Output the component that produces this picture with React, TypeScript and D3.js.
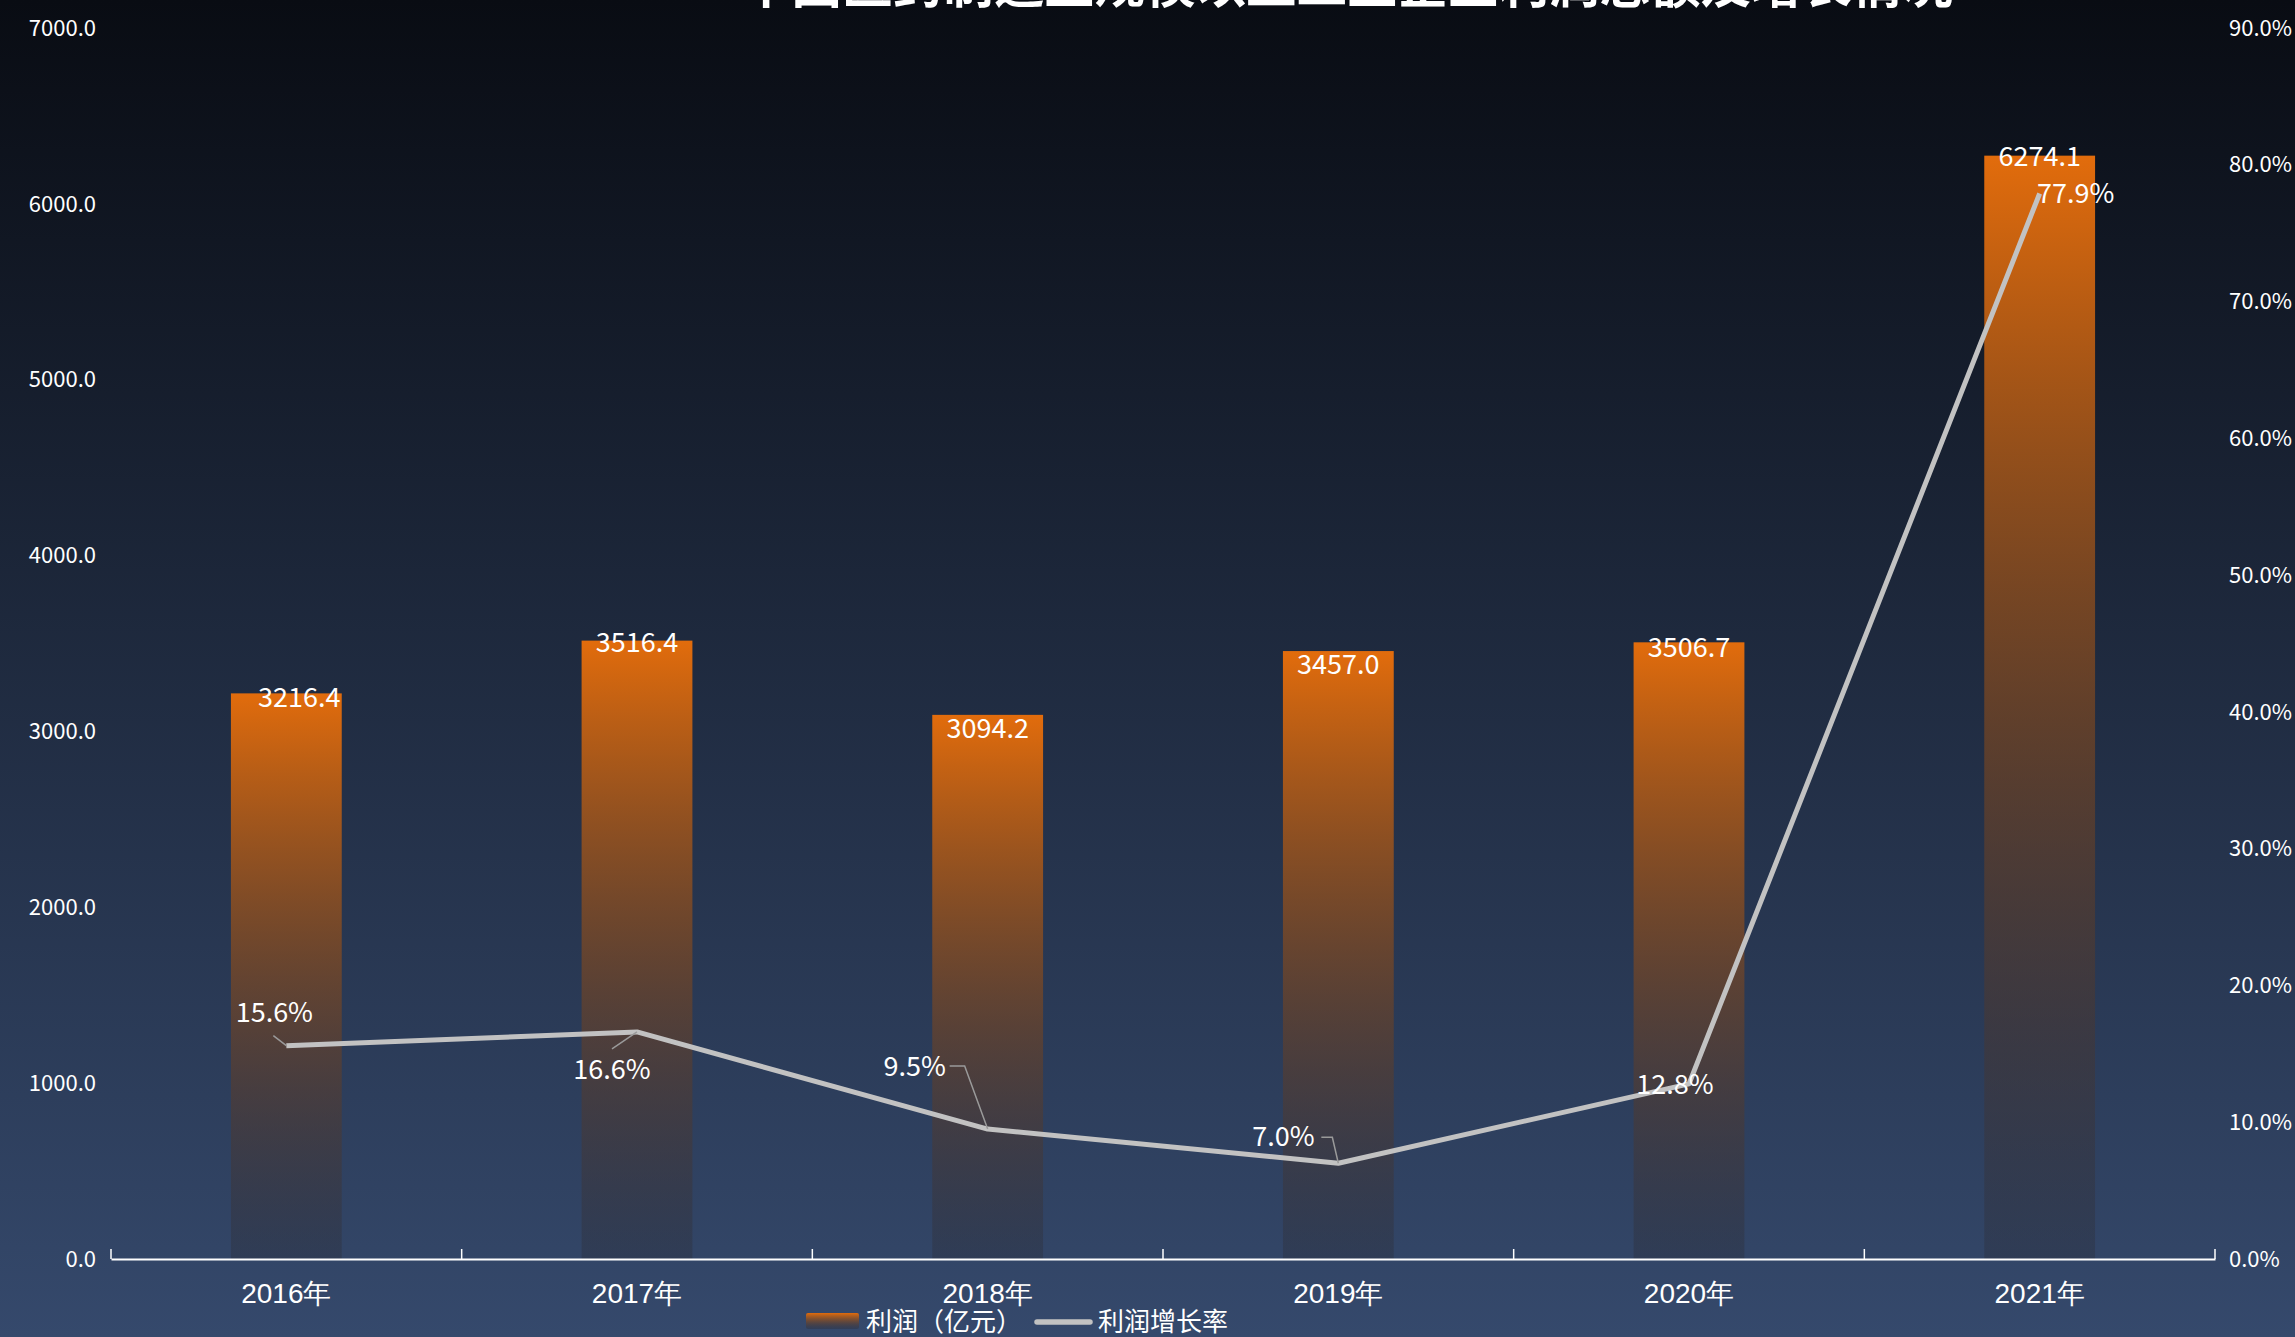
import React, { useEffect, useRef } from "react";
import * as d3 from "d3";

// chart data
const title = "中国医药制造业规模以上工业企业利润总额及增长情况";
const years = ["2016年", "2017年", "2018年", "2019年", "2020年", "2021年"];
const profit = [3216.4, 3516.4, 3094.2, 3457.0, 3506.7, 6274.1];
const growth = [15.6, 16.6, 9.5, 7.0, 12.8, 77.9];
const leftTicks = [0, 1000, 2000, 3000, 4000, 5000, 6000, 7000];
const rightTicks = [0, 10, 20, 30, 40, 50, 60, 70, 80, 90];
const seriesNames = ["利润（亿元）", "利润增长率"];

// label nudges (like echarts labelLayout), styling only
const barLabelNudge = [
  { dx: 13, dy: 4 },
  { dx: 0, dy: 2 },
  { dx: 0, dy: 14 },
  { dx: 0, dy: 13 },
  { dx: 0, dy: 5 },
  { dx: 0, dy: 1 },
];
const growthLabelLayout = [
  { dx: -12, dy: -33, leader: [[-13, -10], [0, 0]] },
  { dx: -25, dy: 38, leader: [[-25, 17], [0, 0]] },
  { dx: -73, dy: -63, leader: [[-38, -63], [-23, -63], [0, 0]] },
  { dx: -55, dy: -27, leader: [[-17, -26], [-6, -26], [0, 0]] },
  { dx: -14, dy: 1, leader: [] },
  { dx: 36, dy: 0, leader: [] },
];

const width = 2295,
  height = 1337,
  marginTop = 28,
  marginBottom = 78,
  marginLeft = 111,
  marginRight = 80;

const FONT = "'Noto Sans CJK SC', 'Noto Sans', sans-serif";

const App = () => {
  const chartRef = useRef<SVGSVGElement>(null);

  useEffect(() => {
    if (!chartRef.current) return;
    const svg = d3.select(chartRef.current);
    svg.selectAll("*").remove();
    svg
      .attr("width", width)
      .attr("height", height)
      .attr("viewBox", [0, 0, width, height])
      .style("font-family", FONT);

    const defs = svg.append("defs");
    const bg = defs
      .append("linearGradient")
      .attr("id", "bg")
      .attr("x1", 0)
      .attr("y1", 0)
      .attr("x2", 0)
      .attr("y2", 1);
    bg.append("stop").attr("offset", "0%").attr("stop-color", "#090c13");
    bg.append("stop").attr("offset", "100%").attr("stop-color", "#35496c");

    const barGrad = defs
      .append("linearGradient")
      .attr("id", "barGrad")
      .attr("x1", 0)
      .attr("y1", 0)
      .attr("x2", 0)
      .attr("y2", 1);
    barGrad
      .append("stop")
      .attr("offset", "0%")
      .attr("stop-color", "#e26c0c")
      .attr("stop-opacity", 1);
    barGrad
      .append("stop")
      .attr("offset", "100%")
      .attr("stop-color", "#28282f")
      .attr("stop-opacity", 0.3);

    svg
      .append("rect")
      .attr("width", width)
      .attr("height", height)
      .attr("fill", "url(#bg)");

    const x = d3
      .scaleBand()
      .domain(years)
      .range([marginLeft, width - marginRight])
      .padding(0);
    const yLeft = d3
      .scaleLinear()
      .domain([0, 7000])
      .range([height - marginBottom, marginTop]);
    const yRight = d3
      .scaleLinear()
      .domain([0, 90])
      .range([height - marginBottom, marginTop]);
    const barW = x.bandwidth() * 0.316;
    const cx = (d: string) => (x(d) ?? 0) + x.bandwidth() / 2;

    // title (mostly outside the top edge)
    svg
      .append("text")
      .attr("x", 1347)
      .attr("y", 3)
      .attr("text-anchor", "middle")
      .attr("fill", "#fff")
      .attr("font-size", 50.5)
      .attr("font-weight", "bold")
      .text(title);

    // left axis labels
    svg
      .append("g")
      .selectAll("text")
      .data(leftTicks)
      .join("text")
      .attr("x", 96)
      .attr("y", (d) => yLeft(d))
      .attr("dy", "0.35em")
      .attr("text-anchor", "end")
      .attr("fill", "#fff")
      .attr("font-size", 22)
      .text((d) => d3.format(".1f")(d));

    // right axis labels
    svg
      .append("g")
      .selectAll("text")
      .data(rightTicks)
      .join("text")
      .attr("x", width - 66)
      .attr("y", (d) => yRight(d))
      .attr("dy", "0.35em")
      .attr("text-anchor", "start")
      .attr("fill", "#fff")
      .attr("font-size", 22)
      .text((d) => `${d3.format(".1f")(d)}%`);

    // bars
    svg
      .append("g")
      .selectAll("rect")
      .data(profit)
      .join("rect")
      .attr("x", (_, i) => cx(years[i]) - barW / 2)
      .attr("y", (d) => yLeft(d))
      .attr("width", barW)
      .attr("height", (d) => yLeft(0) - yLeft(d))
      .attr("fill", "url(#barGrad)");

    // x axis
    const axis = svg
      .append("g")
      .attr("transform", `translate(0,${yLeft(0)})`)
      .call(
        d3
          .axisBottom(x)
          .tickSize(0)
          .tickSizeOuter(0)
          .tickFormat(() => "")
      );
    axis.select("path").attr("stroke", "#fff").attr("stroke-width", 2);
    axis.selectAll("g.tick").remove();
    const bounds = years.map((d) => x(d) ?? 0).concat([width - marginRight]);
    axis
      .selectAll("line.bound")
      .data(bounds)
      .join("line")
      .attr("class", "bound")
      .attr("x1", (d) => d)
      .attr("x2", (d) => d)
      .attr("y1", 0)
      .attr("y2", -10)
      .attr("stroke", "#fff")
      .attr("stroke-width", 1.5);
    axis
      .selectAll("text.cat")
      .data(years)
      .join("text")
      .attr("class", "cat")
      .attr("x", (d) => cx(d))
      .attr("y", 34)
      .attr("dy", "0.35em")
      .attr("text-anchor", "middle")
      .attr("fill", "#fff")
      .attr("font-size", 28)
      .text((d) => d);

    // growth line
    const line = d3
      .line<number>()
      .x((_, i) => cx(years[i]))
      .y((d) => yRight(d));
    svg
      .append("path")
      .datum(growth)
      .attr("d", line)
      .attr("fill", "none")
      .attr("stroke", "#c2c2c2")
      .attr("stroke-width", 5)
      .attr("stroke-linejoin", "round");

    // bar value labels
    svg
      .append("g")
      .selectAll("text")
      .data(profit)
      .join("text")
      .attr("x", (_, i) => cx(years[i]) + barLabelNudge[i].dx)
      .attr("y", (d, i) => yLeft(d) + barLabelNudge[i].dy)
      .attr("dy", "0.35em")
      .attr("text-anchor", "middle")
      .attr("fill", "#fff")
      .attr("font-size", 27)
      .text((d) => d3.format(".1f")(d));

    // growth labels + leader lines
    const lg = svg.append("g");
    growth.forEach((v, i) => {
      const px = cx(years[i]);
      const py = yRight(v);
      const lay = growthLabelLayout[i];
      if (lay.leader.length) {
        lg.append("path")
          .attr(
            "d",
            d3.line()(lay.leader.map(([a, b]) => [px + a, py + b]) as [number, number][])
          )
          .attr("fill", "none")
          .attr("stroke", "#9a9a9a")
          .attr("stroke-width", 1.5);
      }
      lg.append("text")
        .attr("x", px + lay.dx)
        .attr("y", py + lay.dy)
        .attr("dy", "0.35em")
        .attr("text-anchor", "middle")
        .attr("fill", "#fff")
        .attr("font-size", 27)
        .text(`${d3.format(".1f")(v)}%`);
    });

    // legend
    const legend = svg.append("g").attr("transform", `translate(0,1322)`);
    legend
      .append("rect")
      .attr("x", 806)
      .attr("y", -9)
      .attr("width", 53)
      .attr("height", 16)
      .attr("rx", 2)
      .attr("fill", "url(#barGrad)");
    legend
      .append("text")
      .attr("x", 866)
      .attr("y", 0)
      .attr("dy", "0.35em")
      .attr("fill", "#fff")
      .attr("font-size", 26)
      .text(seriesNames[0]);
    legend
      .append("line")
      .attr("x1", 1037)
      .attr("x2", 1090)
      .attr("y1", 0)
      .attr("y2", 0)
      .attr("stroke", "#c2c2c2")
      .attr("stroke-width", 5.5)
      .attr("stroke-linecap", "round");
    legend
      .append("text")
      .attr("x", 1098)
      .attr("y", 0)
      .attr("dy", "0.35em")
      .attr("fill", "#fff")
      .attr("font-size", 26)
      .text(seriesNames[1]);
  }, []);

  return (
    <div style={{ position: "absolute", top: 0, left: 0 }}>
      <svg ref={chartRef} style={{ display: "block" }}></svg>
    </div>
  );
};

export default App;
